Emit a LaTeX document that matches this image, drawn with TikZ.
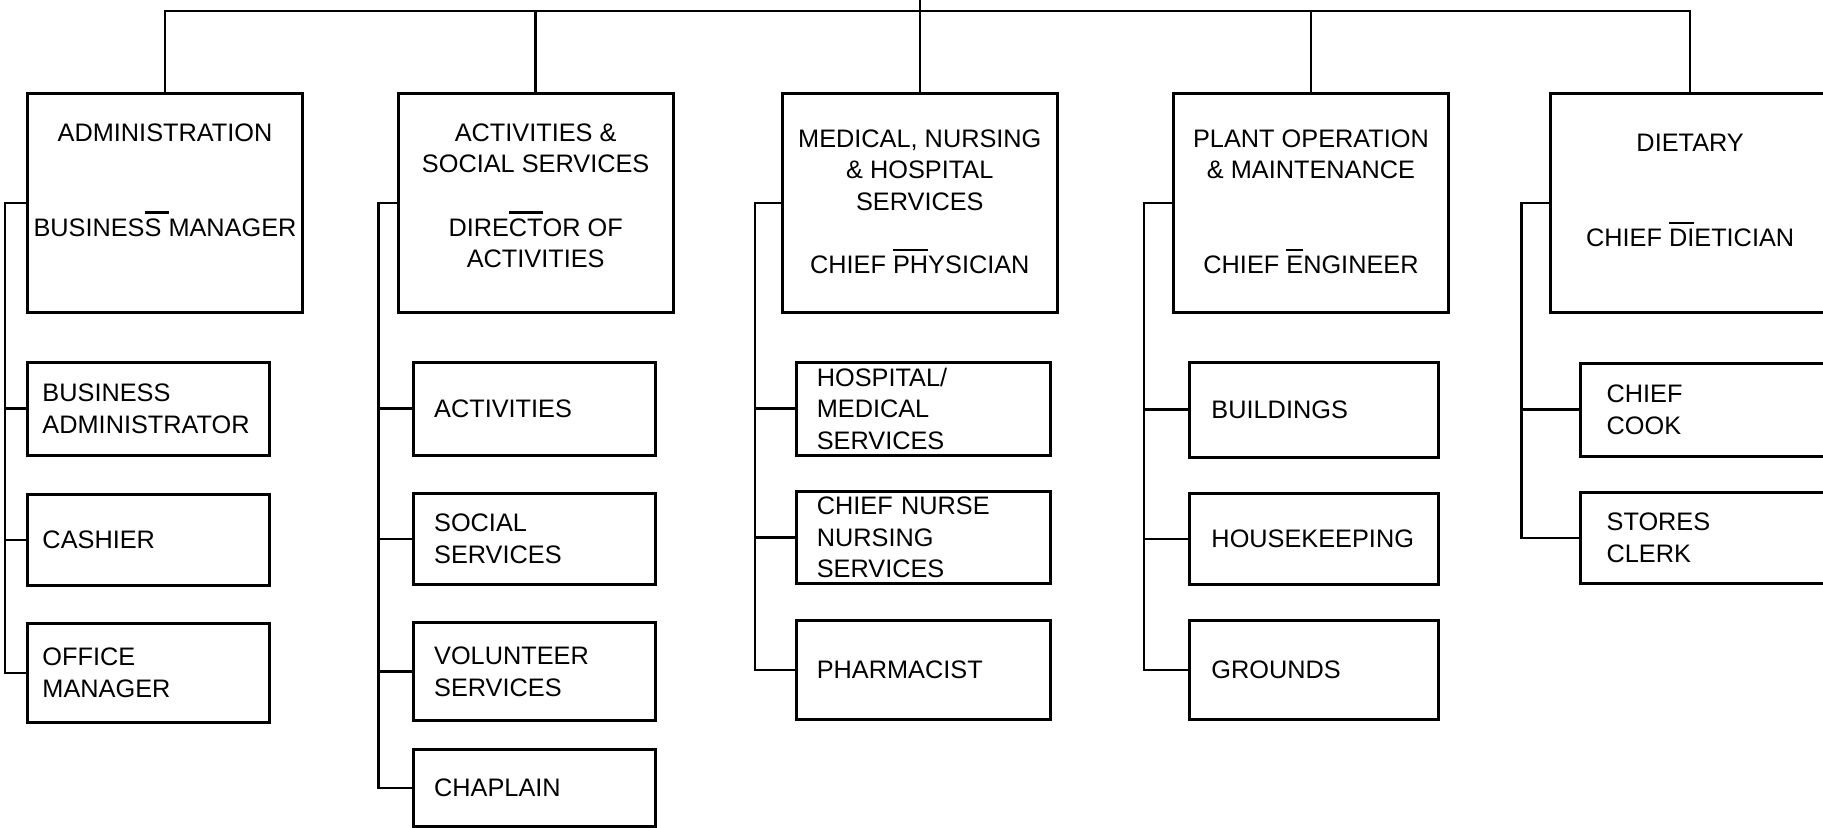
\documentclass[tikz,border=0pt]{standalone}
\usepackage{fontspec}
\setmainfont{Liberation Sans}
\usetikzlibrary{positioning}

\newcommand{\chartfont}{\fontsize{7.2pt}{9pt}\selectfont}
\newcommand{\headtext}[2]{\parbox[c][2.19cm][t]{2.75cm}{\centering\vspace*{#1}#2}}
\newcommand{\ovl}[1]{\setbox0\hbox{#1}\rlap{\smash{\rule[6.4pt]{\wd0}{0.6pt}}}\box0}

\tikzset{
  head/.style={draw, line width=0.9pt, inner sep=0pt, font=\chartfont},
  unit/.style={draw, line width=0.9pt, align=left, inner ysep=0pt, inner xsep=0.2cm, text width=#1, font=\chartfont},
  link/.style={line width=0.7pt}
}

\begin{document}
\begin{tikzpicture}
        \useasboundingbox (0,0) rectangle (18.23,-8.27);
        \coordinate (top) at (0,0);
        \coordinate (bus) at (0,-0.11);
        % department heads %
        \node[head] (adm) at (1.65,-2.03) {\headtext{0.30cm}{ADMINISTRATION\\[2\baselineskip]BUSINES\ovl{S\ }MANAGER}};
        \node[head, right=0.925cm of adm] (act) {\headtext{0.30cm}{ACTIVITIES \&\\SOCIAL SERVICES\\[\baselineskip]DIRE\ovl{CT}OR OF\\ACTIVITIES}};
        \node[head, right=1.06cm of act] (med) {\headtext{0.36cm}{MEDICAL, NURSING\\\& HOSPITAL\\SERVICES\\[\baselineskip]CHIEF \ovl{PH}YSICIAN}};
        \node[head, right=1.13cm of med] (plt) {\headtext{0.36cm}{PLANT OPERATION\\\& MAINTENANCE\\[2\baselineskip]CHIEF \ovl{E}NGINEER}};
        \node[head, minimum width=2.8cm, right=0.985cm of plt] (die) {\headtext{0.41cm}{DIETARY\\[2\baselineskip]CHIEF \ovl{DI}ETICIAN}};
        % administration %
        \node[unit=2.12cm, inner xsep=0.15cm, minimum height=0.93cm, below right=0.465cm and 0cm of adm.south west] (adm1) {BUSINESS\\ADMINISTRATOR};
        \node[unit=2.12cm, inner xsep=0.15cm, minimum height=0.91cm, below right=0.36cm and 0cm of adm1.south west] (adm2) {CASHIER};
        \node[unit=2.12cm, inner xsep=0.15cm, minimum height=0.99cm, below right=0.35cm and 0cm of adm2.south west] (adm3) {OFFICE\\MANAGER};
        % activities %
        \node[unit=2.0cm, inner xsep=0.21cm, minimum height=0.93cm, below right=0.465cm and 0.15cm of act.south west] (act1) {ACTIVITIES};
        \node[unit=2.0cm, inner xsep=0.21cm, minimum height=0.91cm, below right=0.35cm and 0cm of act1.south west] (act2) {SOCIAL\\SERVICES};
        \node[unit=2.0cm, inner xsep=0.21cm, minimum height=0.98cm, below right=0.35cm and 0cm of act2.south west] (act3) {VOLUNTEER\\SERVICES};
        \node[unit=2.0cm, inner xsep=0.21cm, minimum height=0.77cm, below right=0.26cm and 0cm of act3.south west] (act4) {CHAPLAIN};
        % medical %
        \node[unit=2.14cm, minimum height=0.93cm, below right=0.465cm and 0.145cm of med.south west] (med1) {HOSPITAL/\\MEDICAL\\SERVICES};
        \node[unit=2.14cm, minimum height=0.92cm, below right=0.33cm and 0cm of med1.south west] (med2) {CHIEF NURSE\\NURSING\\SERVICES};
        \node[unit=2.14cm, minimum height=0.99cm, below right=0.34cm and 0cm of med2.south west] (med3) {PHARMACIST};
        % plant %
        \node[unit=2.05cm, inner xsep=0.22cm, minimum height=0.95cm, below right=0.465cm and 0.16cm of plt.south west] (plt1) {BUILDINGS};
        \node[unit=2.05cm, inner xsep=0.22cm, minimum height=0.91cm, below right=0.33cm and 0cm of plt1.south west] (plt2) {HOUSEKEEPING};
        \node[unit=2.05cm, inner xsep=0.22cm, minimum height=0.99cm, below right=0.33cm and 0cm of plt2.south west] (plt3) {GROUNDS};
        % dietary %
        \node[unit=2.08cm, inner xsep=0.26cm, minimum height=0.93cm, below right=0.475cm and 0.305cm of die.south west] (die1) {CHIEF\\COOK};
        \node[unit=2.08cm, inner xsep=0.26cm, minimum height=0.91cm, below right=0.33cm and 0cm of die1.south west] (die2) {STORES\\CLERK};
        % edges %
        \draw[link] (adm.north) |- (bus -| die.north) -- (die.north);
        \draw[link] (act.north) -- (act.north |- bus);
        \draw[link] (plt.north) -- (plt.north |- bus);
        \draw[link] (med.north) -- (med.north |- top);
        \draw[link] (adm.west) -- ++(-0.21,0) coordinate (admb) |- (adm3.west);
        \draw[link] (admb |- adm1.west) -- (adm1.west);
        \draw[link] (admb |- adm2.west) -- (adm2.west);
        \draw[link] (act.west) -- ++(-0.18,0) coordinate (actb) |- (act4.west);
        \draw[link] (actb |- act1.west) -- (act1.west);
        \draw[link] (actb |- act2.west) -- (act2.west);
        \draw[link] (actb |- act3.west) -- (act3.west);
        \draw[link] (med.west) -- ++(-0.26,0) coordinate (medb) |- (med3.west);
        \draw[link] (medb |- med1.west) -- (med1.west);
        \draw[link] (medb |- med2.west) -- (med2.west);
        \draw[link] (plt.west) -- ++(-0.28,0) coordinate (pltb) |- (plt3.west);
        \draw[link] (pltb |- plt1.west) -- (plt1.west);
        \draw[link] (pltb |- plt2.west) -- (plt2.west);
        \draw[link] (die.west) -- ++(-0.27,0) coordinate (dieb) |- (die2.west);
        \draw[link] (dieb |- die1.west) -- (die1.west);
\end{tikzpicture}
\end{document}
